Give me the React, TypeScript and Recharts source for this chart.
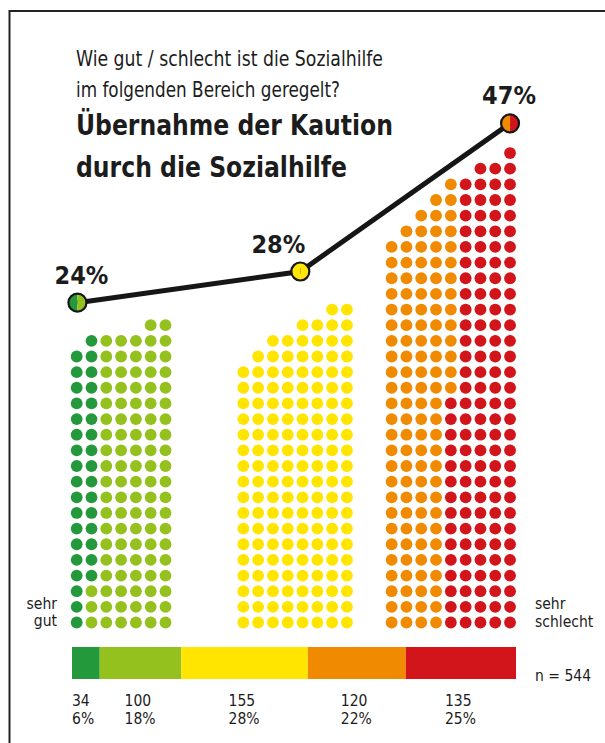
import React from 'react';
import { ScatterChart, Scatter, XAxis, YAxis, BarChart, Bar, LabelList } from 'recharts';

// answer categories, from "sehr gut" to "sehr schlecht"
const categories = ['sehr gut', 'eher gut', 'teils / teils', 'eher schlecht', 'sehr schlecht'];
const counts = [34, 100, 155, 120, 135];
const shares = [6, 18, 28, 22, 25];
const total = 544;

// the three dot blocks and their share
const groupPct = [24, 28, 47];
const groupCats = [[0, 1], [2], [3, 4]];

// dots per column in each block (one dot = one respondent), left to right
const greenColumns = [18, 19, 19, 19, 19, 20, 20];
const yellowColumns = [17, 18, 19, 19, 20, 20, 21, 21];
const redColumns = [25, 26, 27, 28, 29, 29, 30, 30, 31];

const COLORS = ['#24993c', '#95c11f', '#ffe500', '#f08a00', '#d2141b'];
const INK = '#161616';
const FONT = "'DejaVu Sans Condensed', 'Liberation Sans Narrow', 'DejaVu Sans', sans-serif";

// layout, in dot columns
const groupOffset = [0, 11.26, 21.28];
const markerCol = [0.05, 3.85, 8];
const labelDx = [4, -22, -1];
const BAR_PAD = 20;

type Pt = { x: number; y: number };

function buildDots(): Pt[][] {
  const dots: Pt[][] = COLORS.map(() => []);
  [greenColumns, yellowColumns, redColumns].forEach((cols, g) => {
    const cats = groupCats[g];
    let ci = 0;
    let left = counts[cats[0]];
    cols.forEach((h, c) => {
      // fill each column from the top down
      for (let r = h - 1; r >= 0; r--) {
        while (left === 0) {
          ci++;
          left = counts[cats[ci]];
        }
        dots[cats[ci]].push({ x: groupOffset[g] + c, y: r });
        left--;
      }
    });
  });
  return dots;
}

const dots = buildDots();
const trend = groupPct.map((p, i) => ({ x: groupOffset[i] + markerCol[i], pct: p, i }));
const barRow = [{ name: 'alle', ...Object.fromEntries(counts.map((c, i) => [`c${i}`, c])) }];

const dotShape = (color: string) => (p: any) => (
  <circle cx={p.cx} cy={p.cy} r={5.9} fill={color} />
);

const markerShape = (p: any) => {
  const { cx, cy, payload } = p;
  const cats = groupCats[payload.i];
  const a = COLORS[cats[0]];
  const b = COLORS[cats[cats.length - 1]];
  const r = 9;
  return (
    <g>
      <path d={`M${cx},${cy - r} A${r},${r} 0 0 0 ${cx},${cy + r} Z`} fill={a} />
      <path d={`M${cx},${cy - r} A${r},${r} 0 0 1 ${cx},${cy + r} Z`} fill={b} />
      <circle cx={cx} cy={cy} r={r} fill="none" stroke={INK} strokeWidth={2.2} />
      <text
        x={cx + labelDx[payload.i]}
        y={cy - 19}
        textAnchor="middle"
        fontFamily={FONT}
        fontWeight="bold"
        fontSize={25}
        fill="#1c1c1c"
      >
        {payload.pct}%
      </text>
    </g>
  );
};

const countLabel = (i: number) => (props: any) => {
  const vb = props.viewBox ?? props;
  const x = Math.max(vb.x, vb.x + vb.width / 2 - 16);
  const bottom = vb.y + vb.height;
  return (
    <g>
      <text x={x} y={bottom + 27} fontFamily={FONT} fontSize={15.5} fill="#1c1c1c">
        {props.value}
      </text>
      <text x={x} y={bottom + 44.5} fontFamily={FONT} fontSize={15.5} fill="#1c1c1c">
        {shares[i]}%
      </text>
    </g>
  );
};

export default function App() {
  return (
    <div style={{ position: 'relative', width: 605, height: 743, background: '#fff', overflow: 'hidden' }}>
      <style>{'body{margin:0}'}</style>
      <svg width={605} height={743} style={{ position: 'absolute', left: 0, top: 0 }}>
        <path d="M9.5,743 V11 H605" fill="none" stroke="#222" strokeWidth={2} />
        <g fontFamily={FONT} fill="#1c1c1c">
          <text x={76} y={66} fontSize={21} textLength={307} lengthAdjust="spacingAndGlyphs">
            Wie gut / schlecht ist die Sozialhilfe
          </text>
          <text x={76} y={97} fontSize={21} textLength={264} lengthAdjust="spacingAndGlyphs">
            im folgenden Bereich geregelt?
          </text>
          <text x={76} y={135} fontSize={28} fontWeight="bold" textLength={317} lengthAdjust="spacingAndGlyphs">
            Übernahme der Kaution
          </text>
          <text x={76} y={177} fontSize={28} fontWeight="bold" textLength={271} lengthAdjust="spacingAndGlyphs">
            durch die Sozialhilfe
          </text>
          <text x={57} y={609} fontSize={15.5} textAnchor="end">sehr</text>
          <text x={57} y={626} fontSize={15.5} textAnchor="end">gut</text>
          <text x={535} y={609} fontSize={15.5}>sehr</text>
          <text x={535} y={627} fontSize={15.5}>schlecht</text>
          <text x={535} y={681} fontSize={15.5}>n = {total}</text>
        </g>
      </svg>

      <div style={{ position: 'absolute', left: 0, top: 0 }}>
        <ScatterChart width={605} height={743} margin={{ top: 0, right: 0, bottom: 0, left: 0 }}>
          <XAxis type="number" dataKey="x" domain={[-5.182, 35.696]} hide allowDataOverflow />
          <YAxis yAxisId="dots" type="number" dataKey="y" domain={[-7.7, 39.78]} hide allowDataOverflow />
          <YAxis yAxisId="pct" type="number" dataKey="pct" domain={[-32.45, 62.81]} hide allowDataOverflow />
          {dots.map((d, k) => (
            <Scatter
              key={categories[k]}
              name={categories[k]}
              yAxisId="dots"
              data={d}
              fill={COLORS[k]}
              shape={dotShape(COLORS[k])}
              isAnimationActive={false}
            />
          ))}
          <Scatter
            name="Anteil"
            yAxisId="pct"
            data={trend}
            line={{ stroke: INK, strokeWidth: 5 }}
            lineType="joint"
            shape={markerShape}
            isAnimationActive={false}
          />
        </ScatterChart>
      </div>

      <div style={{ position: 'absolute', left: 71.7 - BAR_PAD, top: 647.3 }}>
        <BarChart
          layout="vertical"
          width={444 + 2 * BAR_PAD}
          height={32 + 62}
          data={barRow}
          margin={{ top: 0, right: BAR_PAD, bottom: 62, left: BAR_PAD }}
          barCategoryGap={0}
        >
          <XAxis type="number" domain={[0, total]} hide />
          <YAxis type="category" dataKey="name" hide />
          {counts.map((c, i) => (
            <Bar key={categories[i]} name={categories[i]} dataKey={`c${i}`} stackId="s" fill={COLORS[i]} isAnimationActive={false}>
              <LabelList dataKey={`c${i}`} content={countLabel(i)} />
            </Bar>
          ))}
        </BarChart>
      </div>
    </div>
  );
}
